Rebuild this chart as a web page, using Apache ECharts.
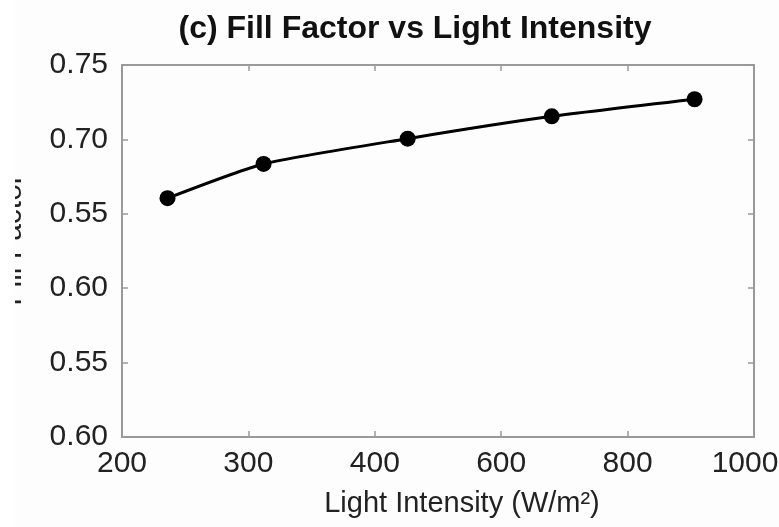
<!DOCTYPE html>
<html>
<head>
<meta charset="utf-8">
<script src="https://cdn.jsdelivr.net/npm/echarts@6/dist/echarts.min.js"></script>
<style>
  html, body { margin: 0; padding: 0; background: #fdfdfd; }
  #chart { width: 779px; height: 527px; }
</style>
</head>
<body>
<div id="chart"></div>
<script>
// tick labels as printed on the figure (evenly spaced slots)
const xTickLabels = ['200', '300', '400', '600', '800', '1000']
const yTickLabels = ['0.60', '0.55', '0.60', '0.55', '0.70', '0.75']

// point positions, measured in tick slots from the lower-left corner
const xPos = [0.36, 1.12, 2.26, 3.40, 4.53]
const fillFactor = [3.21, 3.67, 4.01, 4.31, 4.54]

const font = '"Liberation Sans", Arial, sans-serif'
const chart = echarts.init(document.getElementById('chart'))

const tickStyle = { show: true, inside: true, length: 6, lineStyle: { color: '#999', width: 1.5 } }
const lineStyle = { show: true, onZero: false, lineStyle: { color: '#9a9a9a', width: 2 } }

chart.setOption({
  backgroundColor: '#fdfdfd',
  animation: false,
  title: {
    text: '(c) Fill Factor vs Light Intensity',
    left: 410,
    top: 8,
    textAlign: 'center',
    textStyle: { fontFamily: font, fontSize: 32, fontWeight: 'bold', color: '#111' }
  },
  grid: { left: 122, right: 25, top: 65, bottom: 90, containLabel: false, outerBoundsMode: 'none' },
  xAxis: [
    {
      type: 'value',
      min: 0,
      max: 5,
      interval: 1,
      name: 'Light Intensity (W/m²)',
      nameLocation: 'middle',
      nameGap: 52,
      nameTextStyle: { fontFamily: font, fontSize: 29, color: '#222', padding: [0, 0, 0, 48] },
      axisLine: lineStyle,
      axisTick: tickStyle,
      splitLine: { show: false },
      axisLabel: {
        margin: 12,
        fontFamily: font,
        fontSize: 30,
        color: '#222',
        formatter: v => (v === 5 ? '{last|' + xTickLabels[v] + '}' : xTickLabels[v]),
        rich: { last: { fontFamily: font, fontSize: 30, color: '#222', padding: [0, 18, 0, 0] } }
      }
    },
    {
      type: 'value',
      position: 'top',
      min: 0,
      max: 5,
      interval: 1,
      axisLine: lineStyle,
      axisTick: tickStyle,
      axisLabel: { show: false },
      splitLine: { show: false }
    }
  ],
  yAxis: [
    {
      type: 'value',
      min: 0,
      max: 5,
      interval: 1,
      name: 'Fill Factor',
      nameLocation: 'middle',
      nameRotate: 90,
      nameGap: 94,
      nameTextStyle: { fontFamily: font, fontSize: 30, color: '#222', padding: [0, 0, 0, 22] },
      axisLine: lineStyle,
      axisTick: tickStyle,
      splitLine: { show: false },
      axisLabel: {
        margin: 14,
        fontFamily: font,
        fontSize: 30,
        color: '#222',
        formatter: v => yTickLabels[v]
      }
    },
    {
      type: 'value',
      position: 'right',
      min: 0,
      max: 5,
      interval: 1,
      axisLine: lineStyle,
      axisTick: tickStyle,
      axisLabel: { show: false },
      splitLine: { show: false }
    }
  ],
  // the y title is clipped by the left edge in the original
  graphic: [
    { type: 'rect', left: 0, top: 0, shape: { width: 15, height: 527 }, style: { fill: '#ffffff' }, z: 100 }
  ],
  series: [
    {
      type: 'line',
      data: xPos.map((x, i) => [x, fillFactor[i]]),
      smooth: 0.2,
      symbol: 'circle',
      symbolSize: 16,
      lineStyle: { color: '#000', width: 3 },
      itemStyle: { color: '#000' }
    }
  ]
})
</script>
</body>
</html>
